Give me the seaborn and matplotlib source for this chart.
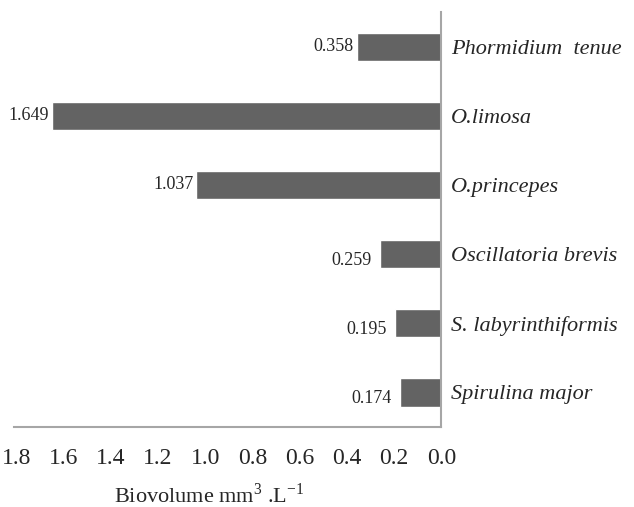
import matplotlib
matplotlib.use("Agg")
import matplotlib.pyplot as plt
import seaborn as sns
import pandas as pd
import numpy as np

species = ["Phormidium  tenue", "O.limosa", "O.princepes",
           "Oscillatoria brevis", "S. labyrinthiformis", "Spirulina major"]
biovolume = [0.358, 1.649, 1.037, 0.259, 0.195, 0.174]

df = pd.DataFrame({"species": species, "biovolume": biovolume})

sns.set_style("white")
plt.rcParams["font.family"] = ["Liberation Serif", "DejaVu Serif"]
plt.rcParams["mathtext.fontset"] = "custom"
plt.rcParams["mathtext.rm"] = "Liberation Serif"

fig = plt.figure(figsize=(6.34, 5.07), dpi=100)
ax = fig.add_axes([0.022, 0.158, 0.674, 0.818])

sns.barplot(data=df, x="biovolume", y="species", orient="h", color="#636363",
            width=0.41, saturation=1, ax=ax)

ax.set_xlim(1.81, 0)
ax.set_ylim(5.5, -0.5)
ticks = np.arange(0, 1.81, 0.2)
ax.set_xticks(ticks)
ax.set_xticklabels([f"{v:.1f}" for v in ticks], fontsize=17)
ax.tick_params(axis="x", length=0, pad=15)

ax.yaxis.tick_right()
ax.tick_params(axis="y", length=0, pad=7)
for lbl in ax.get_yticklabels():
    lbl.set_fontstyle("italic")
    lbl.set_fontsize(16)

# value labels (short bars get their label nudged down/left like the original)
for bar, val in zip(ax.patches, biovolume):
    yc = bar.get_y() + bar.get_height() / 2
    if val < 0.3:
        off = (-6, -4.5)
    else:
        off = (-2, 0)
    ax.annotate(f"{val:.3f}", (bar.get_width(), yc), xytext=off,
                textcoords="offset points", ha="right", va="center", fontsize=13)

ax.set_ylabel("")
ax.set_xlabel(r"Biovolume mm$^{\mathregular{3}}$ .L$^{\mathregular{-1}}$", fontsize=16)
ax.xaxis.set_label_coords(0.457, -0.135)

for s in ["left", "top"]:
    ax.spines[s].set_visible(False)
for s in ["right", "bottom"]:
    ax.spines[s].set_color("#a6a6a6")
    ax.spines[s].set_linewidth(1.5)

plt.savefig("out.png", dpi=100)
